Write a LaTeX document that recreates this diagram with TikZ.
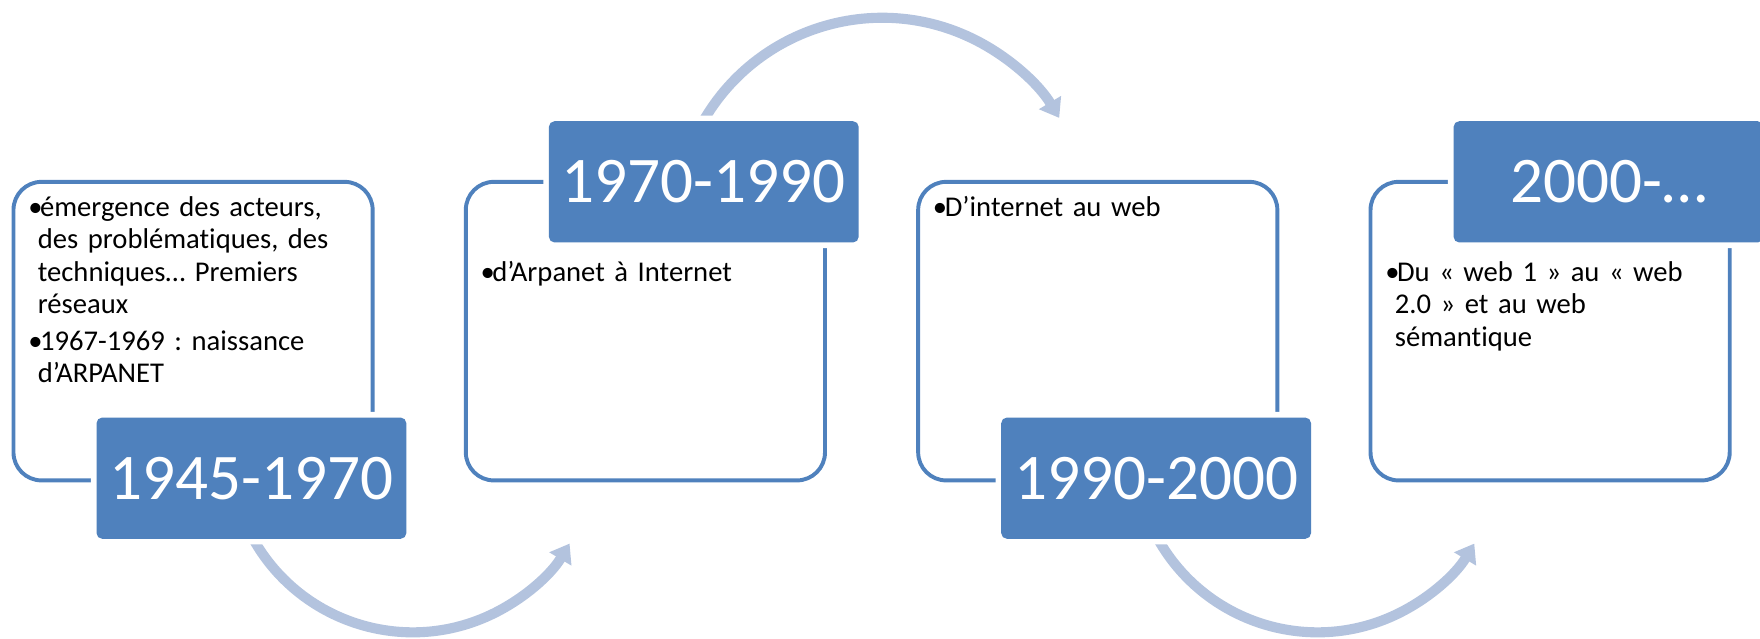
\documentclass[tikz,border=0pt]{standalone}
\usepackage{fontspec}
\setmainfont{Carlito}[Ligatures=NoCommon]
\usetikzlibrary{arrows.meta, positioning, calc, backgrounds}
\definecolor{frameBlue}{HTML}{4F81BD}
\definecolor{arcBlue}{HTML}{B3C3DE}
\newcommand{\Puce}{\makebox[10.5pt][l]{•}}
\newcommand{\Suite}{\hspace*{8.5pt}}
\frenchspacing
\tikzset{
    % Periods
    periodBox/.style={rectangle, rounded corners=25pt, draw=frameBlue, line width=3.5pt,
        minimum width=320pt, minimum height=266pt, inner sep=0pt, outer sep=0pt},
    periodTag/.style={rectangle, rounded corners=5pt, fill=frameBlue, text=white,
        minimum width=276pt, minimum height=108pt, inner sep=0pt,
        font=\fontsize{58}{70}\selectfont, preaction={draw=white, line width=10pt}},
    periodText/.style={anchor=base west, text width=310pt, align=left, inner sep=0pt,
        font=\fontsize{25.5}{28.7}\selectfont},
    % Arcs
    arcFlow/.style={-{Triangle[width=22pt,length=16pt]}, line width=9pt, draw=arcBlue}
}
\begin{document}
\begin{tikzpicture}[x=1pt, y=-1pt]
    \useasboundingbox (0,0) rectangle (1568,568.4);

    % Boxes
    \node[periodBox] (b1) at (172,295) {};
    \node[periodBox, right=83pt of b1] (b2) {};
    \node[periodBox, right=83pt of b2] (b3) {};
    \node[periodBox, right=83pt of b3] (b4) {};

    % Tags
    \node[periodTag] (l1) at ($(b1.south)+(52,-2)$) {1945-1970};
    \node[periodTag] (l2) at ($(b2.north)+(52,0)$) {1970-1990};
    \node[periodTag] (l3) at ($(b3.south)+(52,-2)$) {1990-2000};
    \node[periodTag] (l4) at ($(b4.north)+(52,0)$) {2000-…};

    % Texts
    \node[periodText] (t1) at ($(b1.north west)+(13,31)$) {\Puce émergence des acteurs,\\
        \Suite des problématiques, des\\ \Suite techniques… Premiers\\ \Suite réseaux\\[4.5pt]
        \Puce 1967-1969 : naissance\\ \Suite d’ARPANET};
    \node[periodText] (t2) at ($(b2.north west)+(13,89)$) {\Puce d’Arpanet à Internet};
    \node[periodText] (t3) at ($(b3.north west)+(13,31)$) {\Puce D’internet au web};
    \node[periodText] (t4) at ($(b4.north west)+(13,89)$) {\Puce Du « web 1 » au « web\\
        \Suite 2.0 » et au web\\ \Suite sémantique};

    % Arcs
    \begin{scope}[on background layer]
        \draw[arcFlow] ($(l1.south)+(-4,-11)$) arc[start angle=155, end angle=31, radius=163];
        \draw[arcFlow] ($(l2.north)+(-5,8.5)$) arc[start angle=207, end angle=329, radius=184];
        \draw[arcFlow] ($(l3.south)+(-4,-11)$) arc[start angle=155, end angle=31, radius=163];
    \end{scope}
\end{tikzpicture}
\end{document}
